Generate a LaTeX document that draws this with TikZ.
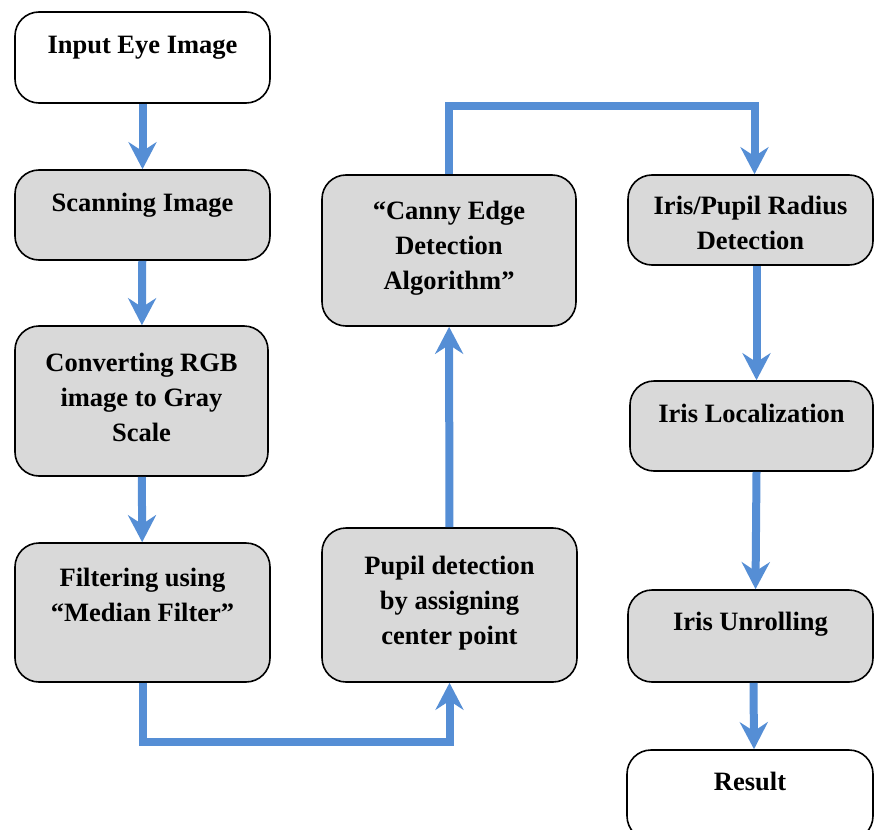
\documentclass[tikz,border=0pt]{standalone}
\usepackage{fontspec}
\setmainfont{Liberation Serif}
\usepackage{tikz}
\usetikzlibrary{arrows.meta, positioning, calc}

\definecolor{flowblue}{RGB}{85,142,213}
\definecolor{boxgray}{RGB}{217,217,217}

\tikzset{
  stepbox/.style={draw=black, line width=1.6pt, rounded corners=24pt,
    fill=boxgray, inner sep=0pt, minimum width=255pt},
  endbox/.style={stepbox, fill=white},
  steptext/.style={font=\bfseries\fontsize{26.5}{35}\selectfont,
    align=center, anchor=base, inner sep=0pt},
  flow/.style={draw=flowblue, line width=8pt,
    -{Stealth[length=27pt, width=28pt, inset=9pt]}}
}

\begin{document}
\begin{tikzpicture}[x=1pt, y=-1pt]
    \useasboundingbox (0,0) rectangle (874,829);

    % left column
    \node[endbox, minimum height=91pt] (inp) at (142.5,57.5) {};
    \node[stepbox, minimum height=90pt] (scan) at (142.5,215) {};
    \node[stepbox, minimum height=150pt, minimum width=253pt] (conv) at (141.5,401) {};
    \node[stepbox, minimum height=139pt] (filt) at (142.5,612.5) {};

    % middle column
    \node[stepbox, minimum height=154pt] (pup) at (449.5,605) {};
    \node[stepbox, minimum height=151pt, minimum width=254pt] (canny) at (449,250.5) {};

    % right column
    \node[stepbox, minimum height=90pt, minimum width=245pt] (rad) at (750.5,220) {};
    \node[stepbox, minimum height=90pt, minimum width=243pt] (loc) at (751.5,426) {};
    \node[stepbox, minimum height=92pt, minimum width=245pt] (unr) at (750.5,636) {};
    \node[endbox, minimum height=90pt, minimum width=246pt] (res) at (750,795) {};

    % labels (base = last line)
    \node[steptext] (inpT) at ($(inp.north)+(0,42)$) {Input Eye Image};
    \node[steptext] (scanT) at ($(scan.north)+(0,42)$) {Scanning Image};
    \node[steptext] (convT) at ($(conv.north)+(0,116)$) {Converting RGB\\image to Gray\\Scale};
    \node[steptext] (filtT) at ($(filt.north)+(0,79)$) {Filtering using\\``Median Filter''};
    \node[steptext] (pupT) at ($(pup.north)+(0,117)$) {Pupil detection\\by assigning\\center point};
    \node[steptext] (cannyT) at ($(canny.north)+(0,115)$) {``Canny Edge\\Detection\\Algorithm''};
    \node[steptext] (radT) at ($(rad.north)+(0,75)$) {Iris/Pupil Radius\\Detection};
    \node[steptext] (locT) at ($(loc.north)+(0,42)$) {Iris Localization};
    \node[steptext] (unrT) at ($(unr.north)+(0,41)$) {Iris Unrolling};
    \node[steptext] (resT) at ($(res.north)+(0,41)$) {Result};

    % connectors
    \draw[flow] (inp) -- (scan);
    \draw[flow] (scan) -- (conv);
    \draw[flow] (conv) -- (filt);
    \draw[flow] (filt.south) -- ++(0,59) -| (pup.south);
    \draw[flow] (pup) -- (canny);
    \draw[flow] (canny.north) -- ++(0,-68) -| ([xshift=4pt]rad.north);
    \draw[flow] ([xshift=6pt]rad.south) -- ([xshift=5pt]loc.north);
    \draw[flow] ([xshift=5pt]loc.south) -- ([xshift=5pt]unr.north);
    \draw[flow] ([xshift=3pt]unr.south) -- ([xshift=4pt]res.north);
\end{tikzpicture}
\end{document}
